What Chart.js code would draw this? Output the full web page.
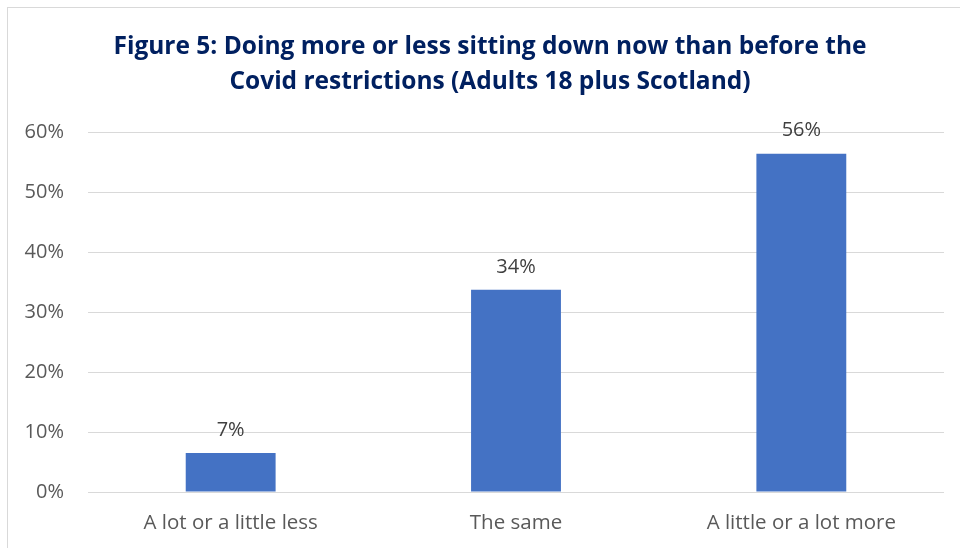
<!DOCTYPE html>
<html>
<head>
<meta charset="utf-8">
<script src="https://cdn.jsdelivr.net/npm/chart.js@4/dist/chart.umd.min.js"></script>
<style>
  html, body { margin: 0; padding: 0; background: #fff; }
  #wrap { position: relative; width: 960px; height: 548px; }
  #frame { position: absolute; left: 7px; top: 7px; width: 1000px; height: 600px; border: 1px solid #d9d9d9; pointer-events: none; }
</style>
</head>
<body>
<div id="wrap">
  <canvas id="sittingChart" width="960" height="548"></canvas>
  <div id="frame"></div>
</div>
<script>
  var categories = ["A lot or a little less", "The same", "A little or a lot more"];
  var values = [6.5, 33.7, 56.4];
  var yTicks = [0, 10, 20, 30, 40, 50, 60];
  var titleLines = ["Figure 5: Doing more or less sitting down now than before the", "Covid restrictions (Adults 18 plus Scotland)"];

  var bodyFont = "'Open Sans', 'Liberation Sans', sans-serif";

  // étiquettes au-dessus des barres
  var valueLabels = {
    id: 'valueLabels',
    afterLayout: function(chart) {
      // titre centré un peu plus à droite, comme dans l'original
      if (chart.titleBlock) { chart.titleBlock.left = 36; }
    },
    afterDatasetsDraw: function(chart) {
      var ctx = chart.ctx;
      var meta = chart.getDatasetMeta(0);
      ctx.save();
      ctx.font = "20px " + bodyFont;
      ctx.fillStyle = '#404040';
      ctx.textAlign = 'center';
      ctx.textBaseline = 'middle';
      meta.data.forEach(function(bar, i) {
        ctx.fillText(Math.round(values[i]) + '%', bar.x, bar.y - 23);
      });
      ctx.restore();
    }
  };

  var ctx = document.getElementById("sittingChart").getContext("2d");
  var chart = new Chart(ctx, {
    type: 'bar',
    data: {
      labels: categories,
      datasets: [{
        data: values,
        backgroundColor: '#4472C4',
        borderWidth: 0,
        categoryPercentage: 1,
        barPercentage: 0.315
      }]
    },
    options: {
      responsive: false,
      animation: false,
      layout: { padding: { left: 0, right: 16, top: 29, bottom: 0 } },
      plugins: {
        legend: { display: false },
        tooltip: { enabled: false },
        title: {
          display: true,
          text: titleLines,
          color: '#002060',
          font: { family: bodyFont, size: 24.5, weight: 'bold', lineHeight: 1.43 },
          padding: { top: 0, bottom: 33 }
        }
      },
      scales: {
        x: {
          grid: { display: false, drawTicks: false },
          border: { display: false },
          ticks: { color: '#595959', font: { family: bodyFont, size: 20.5 }, padding: 19 },
          afterFit: function(scale) { scale.height = 56; }
        },
        y: {
          min: 0,
          max: 60,
          afterBuildTicks: function(scale) { scale.ticks = yTicks.map(function(v) { return { value: v }; }); },
          grid: { color: '#d9d9d9', lineWidth: 1, drawTicks: false },
          border: { display: false },
          ticks: {
            color: '#595959',
            font: { family: bodyFont, size: 20 },
            padding: 24,
            callback: function(v) { return v + '%'; }
          },
          afterFit: function(scale) { scale.width = 88; }
        }
      }
    },
    plugins: [valueLabels]
  });
</script>
</body>
</html>
